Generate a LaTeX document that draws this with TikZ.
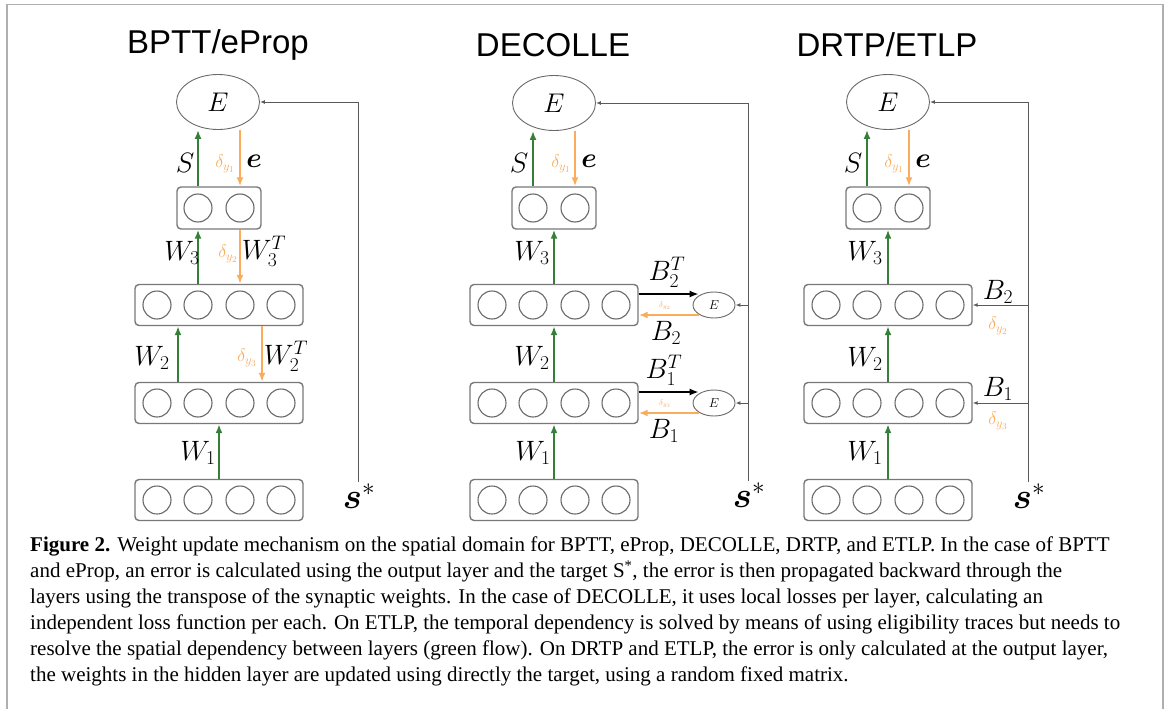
\RequirePackage{fix-cm}
\documentclass[tikz,border=0pt]{standalone}
\usepackage{bm}
\usepackage[no-math]{fontspec}
\setmainfont{Liberation Serif}
\newfontfamily\titlefont{Liberation Sans}
\usetikzlibrary{arrows.meta, shapes.geometric}

\definecolor{fwdgreen}{RGB}{52,128,56}
\definecolor{bwdorange}{RGB}{250,172,92}
\definecolor{boxgray}{RGB}{120,120,120}
\definecolor{neurongray}{RGB}{105,105,105}
\definecolor{fbgray}{RGB}{90,90,90}
\definecolor{framegray}{RGB}{175,175,175}

\begin{document}
\begin{tikzpicture}[x=1pt, y=-1pt, >={Latex[length=9pt,width=7pt]},
    layer/.style={draw=boxgray, line width=1.4pt, rounded corners=4pt, minimum width=168pt, minimum height=41pt, inner sep=0pt},
    outlayer/.style={layer, minimum width=84pt, minimum height=42pt},
    neuron/.style={draw=neurongray, line width=1.1pt, circle, minimum size=28pt, inner sep=0pt},
    err/.style={draw=neurongray, line width=0.9pt, ellipse, minimum width=83pt, minimum height=55pt, inner sep=0pt, font=\fontsize{27}{27}\selectfont},
    locerr/.style={err, minimum width=42pt, minimum height=26pt, font=\fontsize{13}{13}\selectfont},
    fwd/.style={->, draw=fwdgreen, line width=1.8pt},
    bwd/.style={->, draw=bwdorange, line width=1.8pt},
    proj/.style={->, line width=1.4pt},
    fb/.style={-{Latex[length=5pt,width=4pt]}, draw=fbgray, line width=1pt},
    title/.style={font=\titlefont\fontsize{33}{33}\selectfont},
    lbl/.style={inner sep=0pt, font=\fontsize{28}{28}\selectfont},
    dlt/.style={inner sep=0pt, text=bwdorange, font=\fontsize{18}{18}\selectfont},
    tinydlt/.style={inner sep=0pt, text=bwdorange, font=\fontsize{8}{8}\selectfont},
    target/.style={inner sep=0pt, font=\fontsize{36}{36}\selectfont},
    caption/.style={inner sep=0pt, align=left, font=\fontsize{21}{26}\selectfont}]

    \useasboundingbox (0,0) rectangle (1167,709);
    \draw[framegray, line width=1.2pt] (7,709) -- (7,4.5) -- (1163,4.5) -- (1163,709);

    % Define nodes of the first panel (BPTT/eProp)
    \node[title] (aT) at (218,45) {BPTT/eProp};
    \node[err] (aE) at (218,102) {$E$};
    \node[outlayer] (aO) at (219,208) {};
    \foreach \i/\dx in {1/-21,2/21} \node[neuron] (aO\i) at (219+\dx,208) {};
    \node[layer] (a3) at (219,305) {};
    \node[layer] (a2) at (219,403) {};
    \node[layer] (a1) at (219,500) {};
    \foreach \l/\y in {3/305,2/403,1/500}
        \foreach \i/\dx in {1/-62,2/-21,3/21,4/62}
            \node[neuron] (a\l\i) at (219+\dx,\y) {};
    \coordinate (aS) at (358,482);

    % Draw arrows of the first panel
    \draw[fwd] (aO.north -| aO1) -- (aE.south -| aO1);
    \draw[bwd] (aE.south -| aO2) -- (aO.north -| aO2);
    \draw[fwd] (a3.north -| aO1) -- (aO.south -| aO1);
    \draw[bwd] (aO.south -| aO2) -- (a3.north -| aO2);
    \draw[fwd] ([xshift=-41pt]a2.north) -- ([xshift=-41pt]a3.south);
    \draw[bwd] ([xshift=43pt]a3.south) -- ([xshift=43pt]a2.north);
    \draw[fwd] (a1.north) -- (a2.south);
    \draw[fb] (aS) |- (aE.east);

    % Labels of the first panel
    \node[lbl] (aSl) at (185,163) {$S$};
    \node[dlt] (aD1) at (225,164) {$\delta_{y_1}$};
    \node[lbl] (ael) at (254,161) {$\bm{e}$};
    \node[lbl] (aW3) at (182,253) {$W_3$};
    \node[dlt] (aD2) at (228,254) {$\delta_{y_2}$};
    \node[lbl] (aW3T) at (264,251) {$W_3^T$};
    \node[lbl] (aW2) at (152,358) {$W_2$};
    \node[dlt] (aD3) at (247,358) {$\delta_{y_3}$};
    \node[lbl] (aW2T) at (286,356) {$W_2^T$};
    \node[lbl] (aW1) at (198,453) {$W_1$};
    \node[target] (aSt) at (359,496) {$\bm{s}^{*}$};

    % Define nodes of the second panel (DECOLLE)
    \node[title] (bT) at (553,45) {DECOLLE};
    \node[err] (bE) at (554,103) {$E$};
    \node[outlayer] (bO) at (554,208) {};
    \foreach \i/\dx in {1/-21,2/21} \node[neuron] (bO\i) at (554+\dx,208) {};
    \node[layer] (b3) at (554,305) {};
    \node[layer] (b2) at (554,403) {};
    \node[layer] (b1) at (554,500) {};
    \foreach \l/\y in {3/305,2/403,1/500}
        \foreach \i/\dx in {1/-62,2/-21,3/21,4/62}
            \node[neuron] (b\l\i) at (554+\dx,\y) {};
    \node[locerr] (b3e) at (714,305) {$E$};
    \node[locerr] (b2e) at (714,403) {$E$};
    \coordinate (bS) at (748,481);

    % Draw arrows of the second panel
    \draw[fwd] (bO.north -| bO1) -- (bE.south -| bO1);
    \draw[bwd] (bE.south -| bO2) -- (bO.north -| bO2);
    \draw[fwd] (b3.north) -- (bO.south);
    \draw[fwd] (b2.north) -- (b3.south);
    \draw[fwd] (b1.north) -- (b2.south);
    \draw[proj] ([yshift=11pt]b3.east) -- ([xshift=6pt,yshift=11pt]b3e.west);
    \draw[bwd] ([xshift=6pt,yshift=-10pt]b3e.west) -- ([yshift=-10pt]b3.east);
    \draw[proj] ([yshift=11pt]b2.east) -- ([xshift=6pt,yshift=11pt]b2e.west);
    \draw[bwd] ([xshift=6pt,yshift=-10pt]b2e.west) -- ([yshift=-10pt]b2.east);
    \draw[fb] (bS) |- (bE.east);
    \draw[fb] (bS |- b3e.east) -- (b3e.east);
    \draw[fb] (bS |- b2e.east) -- (b2e.east);

    % Labels of the second panel
    \node[lbl] (bSl) at (519,163) {$S$};
    \node[dlt] (bD1) at (561,164) {$\delta_{y_1}$};
    \node[lbl] (bel) at (589,161) {$\bm{e}$};
    \node[lbl] (bW3) at (532,253) {$W_3$};
    \node[lbl] (bW2) at (532,358) {$W_2$};
    \node[lbl] (bW1) at (533,453) {$W_1$};
    \node[lbl] (bB2T) at (667,272) {$B_2^T$};
    \node[tinydlt] (bD2) at (665,306) {$\delta_{y_2}$};
    \node[lbl] (bB2) at (666,333) {$B_2$};
    \node[lbl] (bB1T) at (664,370) {$B_1^T$};
    \node[tinydlt] (bD3) at (665,404) {$\delta_{y_3}$};
    \node[lbl] (bB1) at (664,431) {$B_1$};
    \node[target] (bSt) at (749,495) {$\bm{s}^{*}$};

    % Define nodes of the third panel (DRTP/ETLP)
    \node[title] (cT) at (887,45) {DRTP/ETLP};
    \node[err] (cE) at (888,102) {$E$};
    \node[outlayer] (cO) at (888,208) {};
    \foreach \i/\dx in {1/-21,2/21} \node[neuron] (cO\i) at (888+\dx,208) {};
    \node[layer] (c3) at (888,305) {};
    \node[layer] (c2) at (888,403) {};
    \node[layer] (c1) at (888,500) {};
    \foreach \l/\y in {3/305,2/403,1/500}
        \foreach \i/\dx in {1/-62,2/-21,3/21,4/62}
            \node[neuron] (c\l\i) at (888+\dx,\y) {};
    \coordinate (cS) at (1028,482);

    % Draw arrows of the third panel
    \draw[fwd] (cO.north -| cO1) -- (cE.south -| cO1);
    \draw[bwd] (cE.south -| cO2) -- (cO.north -| cO2);
    \draw[fwd] (c3.north) -- (cO.south);
    \draw[fwd] (c2.north) -- (c3.south);
    \draw[fwd] (c1.north) -- (c2.south);
    \draw[fb] (cS) |- (cE.east);
    \draw[fb] (cS |- c3.east) -- (c3.east);
    \draw[fb] (cS |- c2.east) -- (c2.east);

    % Labels of the third panel
    \node[lbl] (cSl) at (853,163) {$S$};
    \node[dlt] (cD1) at (894,164) {$\delta_{y_1}$};
    \node[lbl] (cel) at (923,161) {$\bm{e}$};
    \node[lbl] (cW3) at (865,253) {$W_3$};
    \node[lbl] (cW2) at (865,359) {$W_2$};
    \node[lbl] (cW1) at (865,453) {$W_1$};
    \node[lbl] (cB2) at (998,292) {$B_2$};
    \node[dlt] (cD2) at (998,326) {$\delta_{y_2}$};
    \node[lbl] (cB1) at (998,389) {$B_1$};
    \node[dlt] (cD3) at (998,421) {$\delta_{y_3}$};
    \node[target] (cSt) at (1029,496) {$\bm{s}^{*}$};

    % Caption
    \node[caption, anchor=north west] (cap) at (30,537) {\textbf{Figure 2.} Weight update mechanism on the spatial domain for BPTT, eProp, DECOLLE, DRTP, and ETLP. In the case of BPTT\\
and eProp, an error is calculated using the output layer and the target S\textsuperscript{*}, the error is then propagated backward through the\\
layers using the transpose of the synaptic weights. In the case of DECOLLE, it uses local losses per layer, calculating an\\
independent loss function per each. On ETLP, the temporal dependency is solved by means of using eligibility traces but needs to\\
resolve the spatial dependency between layers (green flow). On DRTP and ETLP, the error is only calculated at the output layer,\\
the weights in the hidden layer are updated using directly the target, using a random fixed matrix.};

\end{tikzpicture}
\end{document}
